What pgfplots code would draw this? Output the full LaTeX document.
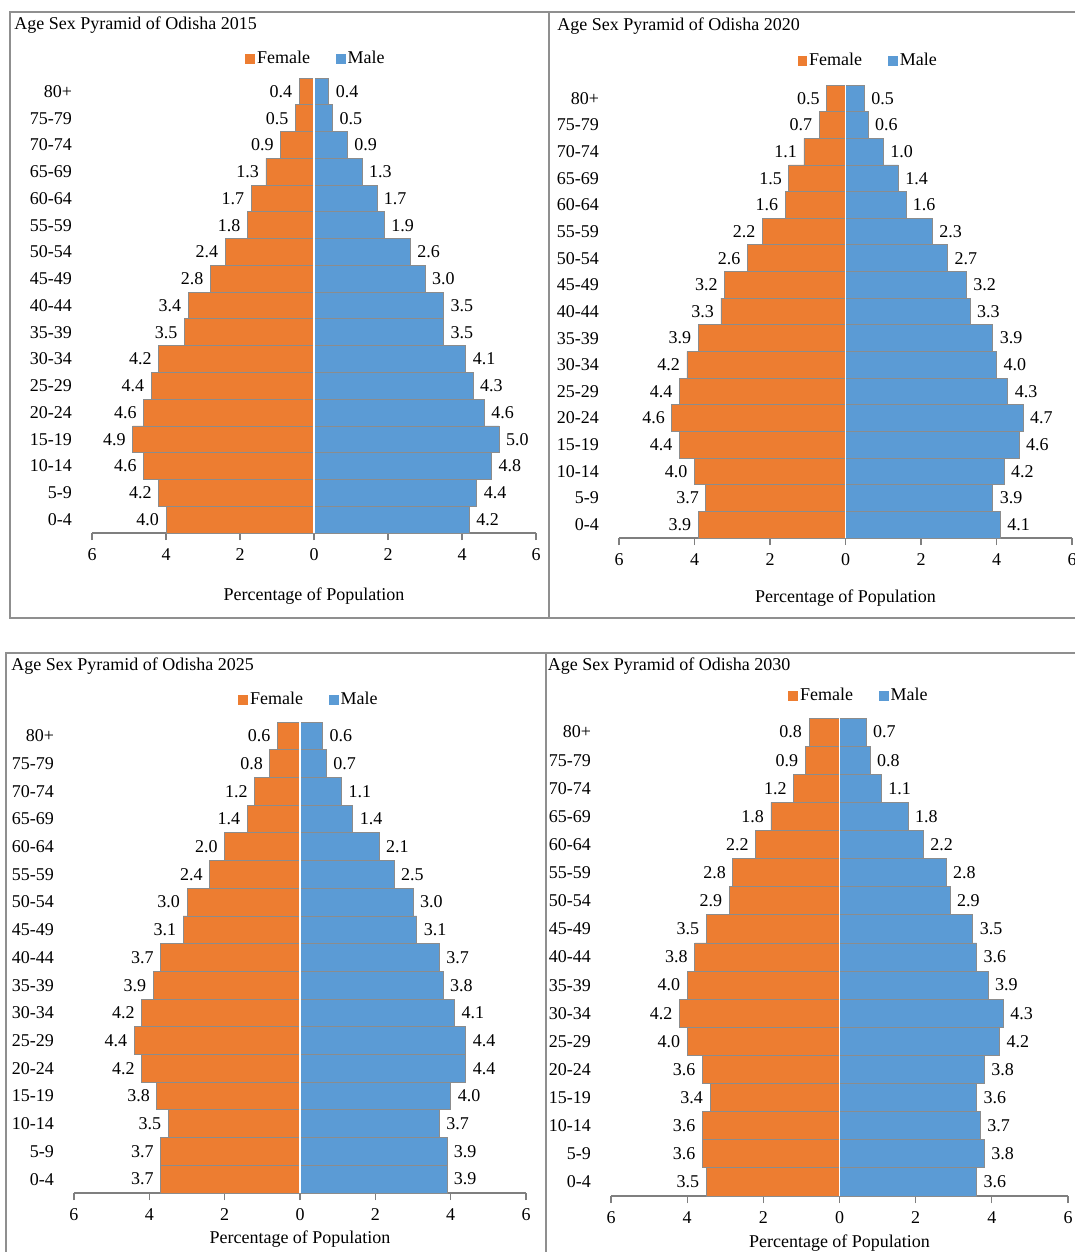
\documentclass[border=0pt]{standalone}
\usepackage{fontspec}
\setmainfont{Liberation Serif}
\usepackage{pgfplots}
\usepackage{pgfplotstable}
\pgfplotsset{compat=1.18}
\definecolor{forange}{HTML}{ED7D31}
\definecolor{mblue}{HTML}{5B9BD5}
\definecolor{edgegray}{HTML}{8C8C8C}
\definecolor{axgray}{HTML}{7F7F7F}
\definecolor{framegray}{HTML}{8F8F8F}

\pgfplotstableread{
idx f m
0 4.0 4.2
1 4.2 4.4
2 4.6 4.8
3 4.9 5.0
4 4.6 4.6
5 4.4 4.3
6 4.2 4.1
7 3.5 3.5
8 3.4 3.5
9 2.8 3.0
10 2.4 2.6
11 1.8 1.9
12 1.7 1.7
13 1.3 1.3
14 0.9 0.9
15 0.5 0.5
16 0.4 0.4
}\tA
\pgfplotstableread{
idx f m
0 3.9 4.1
1 3.7 3.9
2 4.0 4.2
3 4.4 4.6
4 4.6 4.7
5 4.4 4.3
6 4.2 4.0
7 3.9 3.9
8 3.3 3.3
9 3.2 3.2
10 2.6 2.7
11 2.2 2.3
12 1.6 1.6
13 1.5 1.4
14 1.1 1.0
15 0.7 0.6
16 0.5 0.5
}\tB
\pgfplotstableread{
idx f m
0 3.7 3.9
1 3.7 3.9
2 3.5 3.7
3 3.8 4.0
4 4.2 4.4
5 4.4 4.4
6 4.2 4.1
7 3.9 3.8
8 3.7 3.7
9 3.1 3.1
10 3.0 3.0
11 2.4 2.5
12 2.0 2.1
13 1.4 1.4
14 1.2 1.1
15 0.8 0.7
16 0.6 0.6
}\tC
\pgfplotstableread{
idx f m
0 3.5 3.6
1 3.6 3.8
2 3.6 3.7
3 3.4 3.6
4 3.6 3.8
5 4.0 4.2
6 4.2 4.3
7 4.0 3.9
8 3.8 3.6
9 3.5 3.5
10 2.9 2.9
11 2.8 2.8
12 2.2 2.2
13 1.8 1.8
14 1.2 1.1
15 0.9 0.8
16 0.8 0.7
}\tD

\pgfplotsset{
  /pgf/number format/assume math mode=true,
  pyr/.style={
    scale only axis, anchor=south west, clip=false,
    xmin=-6, xmax=6, ymin=-0.5, ymax=16.5,
    axis x line*=bottom, axis y line*=left,
    y axis line style={draw=none},
    x axis line style={draw=axgray, line width=0.6pt},
    xtick={-6,-4,-2,0,2,4,6}, xticklabels={6,4,2,0,2,4,6},
    ytick={0,1,2,3,4,5,6,7,8,9,10,11,12,13,14,15,16},
    yticklabels={0-4,5-9,10-14,15-19,20-24,25-29,30-34,35-39,40-44,45-49,50-54,55-59,60-64,65-69,70-74,75-79,80+},
    ytick style={draw=none}, major tick length=3.5pt,
    xtick style={draw=axgray, line width=0.6pt}, tick align=outside,
    yticklabel style={xshift=-3pt},
    xticklabel style={anchor=north, yshift=-0.8pt},
    point meta=explicit,
    nodes near coords={\pgfmathprintnumber[fixed,fixed zerofill,precision=1]{\pgfplotspointmeta}},
    legend style={draw=none, fill=none, legend columns=2, anchor=center,
      /tikz/every even column/.append style={column sep=12pt},
      /tikz/every odd column/.append style={column sep=0pt},
      nodes={inner sep=1pt}},
    legend image code/.code={\fill[#1,draw=none] (0pt,-2.3pt) rectangle (4.8pt,2.3pt);},
  },
  fbar/.style={xbar, bar width=1, bar shift=0pt, fill=forange, draw=edgegray, line width=0.4pt,
    every node near coord/.append style={anchor=east}},
  mbar/.style={xbar, bar width=1, bar shift=0pt, fill=mblue, draw=edgegray, line width=0.4pt,
    every node near coord/.append style={anchor=west}},
}

\newcommand{\pyramid}[7]{%
\begin{axis}[pyr, at={#2}, width=#3, height=#4,
  legend style={at={(#5)}},
  xlabel={Percentage of Population},
  xlabel style={at={(axis description cs:0.5,0)}, anchor=center, yshift=#6}]
\addplot[fbar] table[x expr=-\thisrow{f}, y=idx, meta=f] {#1};
\addlegendentry{Female}
\addplot[mbar] table[x=m, y=idx, meta=m] {#1};
\addlegendentry{Male}
\draw[white, line width=0.8pt] (axis cs:0,-0.5) -- (axis cs:0,16.5);
\end{axis}}

\begin{document}
\begin{tikzpicture}[font=\fontsize{9}{10.8}\selectfont]
\useasboundingbox (0pt,0pt) rectangle (537.5pt,-626pt);
\fill[white] (0pt,0pt) rectangle (537.5pt,-626pt);
\draw[framegray, line width=0.6pt] (5pt,-6pt) rectangle (274.5pt,-309pt);
\draw[framegray, line width=0.6pt] (274.5pt,-6pt) rectangle (545pt,-309pt);
\draw[framegray, line width=0.6pt] (3pt,-326.5pt) rectangle (273pt,-640pt);
\draw[framegray, line width=0.6pt] (273pt,-326.5pt) rectangle (545pt,-640pt);

\node[anchor=west, inner sep=0pt] at (7pt,-12.5pt) {Age Sex Pyramid of Odisha 2015};
\node[anchor=west, inner sep=0pt] at (278.5pt,-13pt) {Age Sex Pyramid of Odisha 2020};
\node[anchor=west, inner sep=0pt] at (5.5pt,-333pt) {Age Sex Pyramid of Odisha 2025};
\node[anchor=west, inner sep=0pt] at (273.75pt,-333pt) {Age Sex Pyramid of Odisha 2030};

\pyramid{\tA}{{(46pt,-266.5pt)}}{222pt}{227.5pt}{0.5045,1.0418}{-31.5pt}{}
\pyramid{\tB}{{(309.5pt,-269pt)}}{226.5pt}{226.5pt}{0.550,1.053}{-30pt}{}
\pyramid{\tC}{{(37pt,-596.5pt)}}{226pt}{235.5pt}{0.520,1.0467}{-23pt}{}
\pyramid{\tD}{{(305.5pt,-598pt)}}{228.5pt}{239pt}{0.5427,1.046}{-23.5pt}{}
\end{tikzpicture}
\end{document}
